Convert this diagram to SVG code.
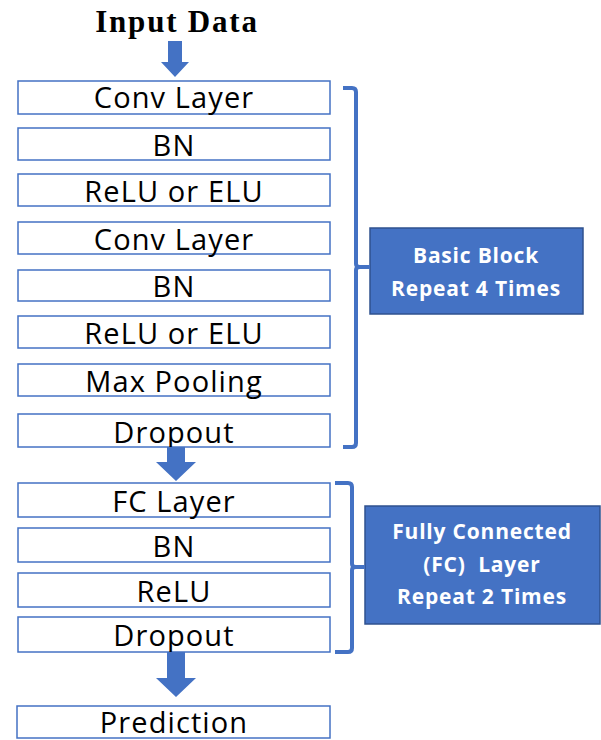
<svg xmlns="http://www.w3.org/2000/svg" width="601" height="740" viewBox="0 0 601 740">
<style>
.box{fill:#fff;stroke:#4472C4;stroke-width:1.5}
.t{font-family:"Open Sans","Liberation Sans",sans-serif;font-size:29px;letter-spacing:1.1px;fill:#000;text-anchor:middle}
.lbl{fill:#4472C4;stroke:#2F528F;stroke-width:1.5}
.lt{font-family:"Open Sans","Liberation Sans",sans-serif;font-size:21px;letter-spacing:0.8px;font-weight:bold;fill:#fff;text-anchor:middle}
.br{fill:none;stroke:#4472C4;stroke-width:4;stroke-linejoin:round}
.ar{fill:#4472C4}
</style>
<text x="177" y="32" font-family="Liberation Serif,serif" font-size="31" font-weight="bold" letter-spacing="1.8" text-anchor="middle">Input Data</text>
<g id="n1"><rect class="box" x="18" y="81" width="312" height="33"/><text class="t" x="174" y="108">Conv Layer</text></g>
<g id="n2"><rect class="box" x="18" y="128" width="312" height="32"/><text class="t" x="174" y="156">BN</text></g>
<g id="n3"><rect class="box" x="18" y="174" width="312" height="32"/><text class="t" x="174" y="202">ReLU or ELU</text></g>
<g id="n4"><rect class="box" x="18" y="222" width="312" height="32"/><text class="t" x="174" y="250">Conv Layer</text></g>
<g id="n5"><rect class="box" x="18" y="270" width="312" height="31"/><text class="t" x="174" y="297">BN</text></g>
<g id="n6"><rect class="box" x="18" y="316" width="312" height="32"/><text class="t" x="174" y="344">ReLU or ELU</text></g>
<g id="n7"><rect class="box" x="18" y="364" width="312" height="32"/><text class="t" x="174" y="392">Max Pooling</text></g>
<g id="n8"><rect class="box" x="18" y="414" width="312" height="33"/><text class="t" x="174" y="443">Dropout</text></g>
<g id="n9"><rect class="box" x="18" y="483" width="312" height="34"/><text class="t" x="174" y="512">FC Layer</text></g>
<g id="n10"><rect class="box" x="18" y="528" width="312" height="34"/><text class="t" x="174" y="557">BN</text></g>
<g id="n11"><rect class="box" x="18" y="573" width="312" height="34"/><text class="t" x="174" y="602">ReLU</text></g>
<g id="n12"><rect class="box" x="18" y="617" width="312" height="35"/><text class="t" x="174" y="646">Dropout</text></g>
<g id="n13"><rect class="box" x="17" y="706" width="313" height="32"/><text class="t" x="174" y="733">Prediction</text></g>
<g id="lbl1"><rect class="lbl" x="370" y="228" width="213" height="86"/><text class="lt" x="476" y="263">Basic Block</text><text class="lt" x="476" y="296">Repeat 4 Times</text></g>
<g id="lbl2"><rect class="lbl" x="365" y="506" width="235" height="118"/><text class="lt" x="482" y="539">Fully Connected</text><text class="lt" x="482" y="572" xml:space="preserve">(FC)  Layer</text><text class="lt" x="482" y="604">Repeat 2 Times</text></g>
<g id="connectors">
<polygon class="ar" points="168,41 182,41 182,62 189,62 175,77 161,62 168,62"/>
<polygon class="ar" points="167,447 185,447 185,462 196,462 176,481 156,462 167,462"/>
<polygon class="ar" points="167,652 185,652 185,678 196,678 176,697 156,678 167,678"/>
<path class="br" d="M343,88 L352,88 Q356,88 356,92 L356,264 Q356,267 360,267 L370,267 M360,267 Q356,267 356,270 L356,443 Q356,447 352,447 L343,447"/>
<path class="br" d="M335,483 L348,483 Q352,483 352,487 L352,564 Q352,567 356,567 L365,567 M356,567 Q352,567 352,570 L352,648 Q352,652 348,652 L335,652"/>
</g>
</svg>
